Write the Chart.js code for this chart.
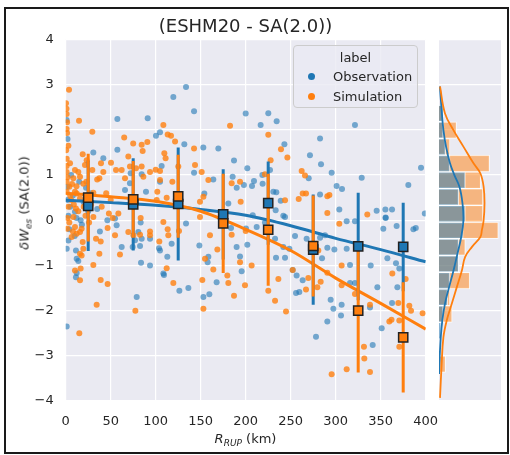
<!DOCTYPE html>
<html>
<head>
<meta charset="utf-8">
<script src="https://cdn.jsdelivr.net/npm/chart.js@4.4.1/dist/chart.umd.min.js"></script>
<style>
  body { margin: 0; background: #fff; font-family: 'DejaVu Sans', sans-serif; color: #262626; }
  #fig { position: relative; width: 510px; height: 455px; overflow: hidden; }
  .abs { position: absolute; }
  #frame { left: 4px; top: 7px; width: 505px; height: 447px; box-sizing: border-box; border: 2px solid #1a1a1a; pointer-events: none; }
  #title { left: 245.5px; top: 25px; transform: translate(-50%, -50%); font-size: 18px; white-space: nowrap; }
  #xlab { left: 245.5px; top: 439px; transform: translate(-50%, -50%); font-size: 13px; white-space: nowrap; }
  #ylab { left: 25px; top: 203px; transform: translate(-50%, -50%) rotate(-90deg); font-size: 13px; white-space: nowrap; }
  sub { font-size: 9px; vertical-align: -3px; }
  #legend { left: 293px; top: 45px; width: 125px; height: 63px; box-sizing: border-box; border: 1px solid #cccccc; border-radius: 4px; background: rgba(234,234,242,0.8); font-size: 13px; }
  #legend .t { position: absolute; left: 0; width: 100%; top: 4px; text-align: center; }
  #legend .row { position: absolute; left: 14px; white-space: nowrap; }
  #legend .dot { display: inline-block; width: 7px; height: 7px; border-radius: 50%; margin-right: 18px; vertical-align: 1px; }
</style>
</head>
<body>
<div id="fig">
  <div class="abs" style="left:0;top:0;width:460px;height:455px"><canvas id="main"></canvas></div>
  <div class="abs" style="left:439px;top:39px;width:62px;height:362px"><canvas id="marg"></canvas></div>
  <div id="title" class="abs">(ESHM20 - SA(2.0))</div>
  <div id="xlab" class="abs"><i>R</i><sub><i>RUP</i></sub> (km)</div>
  <div id="ylab" class="abs"><i>δW</i><sub><i>es</i></sub> (SA(2.0))</div>
  <div id="legend" class="abs">
    <div class="t">label</div>
    <div class="row" style="top:23px"><span class="dot" style="background:#1f77b4"></span>Observation</div>
    <div class="row" style="top:43px"><span class="dot" style="background:#ff7f0e"></span>Simulation</div>
  </div>
  <div id="frame" class="abs"></div>
</div>
<script>
// scatter points [distance, residual]
const obsPts = [
  [133.7,2.95],[119.6,2.73],[142.6,2.41],[91.1,2.26],[57.4,2.24],[104.8,1.95],[100.3,1.87],[1,2.22],[2,1.8],[131.8,1.68],
  [152.9,1.61],[169.6,1.59],[30.7,1.5],[41.8,1.37],[57.4,1.56],[187,1.32],[106.6,1.2],[142.6,1.05],[72.2,1.04],[104.8,0.85],
  [89.2,0.63],[65.9,0.67],[164,0.9],[185.5,0.96],[190,0.72],[154,0.59],[180.7,0.37],[22.6,0.72],[198,0.78],[1.8,0.74],
  [71.4,0.82],[84.4,1.02],
  [2,0.45],[5,0.3],[3,0.1],[8,0.55],[12,0.05],[20,0.4],[25,0.2],[4,-0.2],[18,-0.1],[28,0.6],[35,0.25],[6,1.0],[15,0.85],
  [3,-0.45],[10,-0.35],[38,-0.25],[10.3,0.19],[16.6,0],
  [46.3,0.0],[54.8,0.04],[56.6,-0.11],[62.2,-0.59],[80.7,-0.26],[84.4,-0.41],[104.8,-0.67],[112.9,-0.81],[133.7,-0.07],
  [148.5,-0.56],[158.5,-0.81],[189.9,-0.59],[193.7,-0.8],[200.3,-0.18],[74.4,-0.59],[77,-0.44],[82.6,-0.57],[83.3,-0.05],
  [93.7,-0.41],[83.7,-0.94],[93.7,-1.0],[103.7,-0.62],[117.7,-0.52],[157.7,-0.93],[183.7,-0.17],
  [78.9,-1.7],[108.5,-1.18],[109.2,-1.21],[126.3,-1.56],[136.3,-1.5],[153,-1.7],[159.6,-1.64],[167.7,-1.37],[195.5,-1.13],
  [11.4,-0.67],[12.2,-0.85],[14,-0.9],[11.4,-1.26],[12.2,-1.17],[1.1,-0.63],[1.1,-2.35],
  [200,2.36],[225.1,2.37],[216.6,2.11],[234.4,2.19],[321.4,2.11],[282.6,1.81],[243,1.68],[271.4,1.44],[283.7,1.24],
  [201.8,1.15],[295.5,1.05],[328.9,0.94],[394.8,1.16],[209.2,0.87],[207,0.76],[218.5,1.0],[218.8,0.81],[227,1.11],
  [270,0.93],[301,0.76],[307,0.69],[230.7,0.63],[234,0.62],[282.6,0.57],[380.7,0.78],[238.9,0.43],[304,0.24],[345.5,0.21],
  [355.2,0.24],[362.6,0.24],[355.5,0.06],[241.8,0.1],[399,0.15],[207.8,0.11],[233.3,0.22],
  [201.8,-0.54],[212.2,-0.15],[221.4,-0.05],[243.7,0.07],[232.6,-0.41],[241.8,-0.59],[248.5,-0.63],[233.7,-0.83],
  [243.7,-0.83],[254.8,-0.35],[252.2,-1.1],[256.6,-1.22],[263.3,-1.33],[255.9,-1.61],[259.6,-1.59],[267.7,-0.41],
  [282.6,-0.39],[288.1,-0.33],[284.8,-0.84],[290.7,-0.61],[298.5,-0.65],[294.4,-1.76],[297.4,-1.96],[305.9,-2.11],
  [306.6,-1.87],[290.7,-2.24],[278.1,-2.58],[312.2,-0.02],[321.4,-0.02],[312.2,-0.63],[315.9,-0.99],[315.9,-1.39],
  [321.4,-1.39],[338.1,-1.93],[338.9,-1.0],[346.3,-1.48],[352.9,-0.19],[355.5,0.05],[357.4,-0.84],[367,-0.95],
  [370.7,-1.07],[386.3,-0.2],[389,-0.17],[367.7,-0.13],[368.5,-1.48],[362.6,-1.83],[351.1,-2.39],[341.1,-2.76]
];
const simPts = [
  [3.7,2.89],[0.3,2.59],[0.9,2.47],[1,2.35],[1.5,2.17],[1,2.02],[1.5,1.93],[14.8,2.2],[29.6,1.96],[65,1.83],[75,1.7],
  [84.4,1.67],[90.7,1.73],[85.5,1.53],[108.5,2.11],[113.3,1.9],[117,1.87],[121.5,1.74],[109.6,1.48],[111,1.37],
  [142.6,1.59],[143.7,1.22],[182.6,2.09],[69.6,1.41],
  [18.9,1.46],[23.3,1.33],[21.4,1.22],[1.1,1.36],[4.8,1.26],[10.3,1.11],[14,1.07],[8.5,0.93],[15.9,0.96],[1,1.07],
  [1,0.85],[4,0.74],[29.6,1.11],[41.8,1.07],[39.2,1.26],[50.3,1.27],[37.4,0.93],[55.9,1.11],[62.2,1.11],[65.9,0.93],
  [71.4,1.19],[78.1,1.15],[84.4,1.19],[86.3,0.96],[93.7,1.07],[100,1.12],[104.8,1.09],[104.8,0.89],[101.8,0.63],
  [112.2,0.5],[125.1,1.19],[118.5,0.85],[151.1,1.07],[158.5,0.89],[153,0.52],[125.1,0.37],[193.7,0.85],[184.4,0.82],
  [194.4,0.41],[101.1,0.45],[149.2,0.41],
  [1,0.63],[10.3,0.63],[15.9,0.48],[11.4,0.26],[8.5,0.07],[30.7,0.07],[58.5,0.15],[30.7,0.61],[12.2,0.59],[19.6,0.81],
  [3,0.3],[6,0.45],[2,0.05],[9,0.35],[14,0.2],[22,0.1],[25,0.55],[4,-0.05],[7,0.8],[12,0.75],[20,0.3],[26,-0.05],
  [2,0.95],[5,0.55],[8,-0.25],[23,0.85],[28,0.35],[0.5,1.55],[3,1.65],[1,1.2],[40,0.3],[45,0.6],[50,0.45],[48,0.15],[35,0.9],
  [1.8,-0.19],[10.3,-0.15],[6.6,-0.37],[12.2,-0.3],[15.9,-0.26],[17.7,-0.19],[18.9,-0.48],[19.6,-0.63],[15.9,-0.74],
  [17.7,-0.78],[10.3,-1.11],[16.6,-1.07],[15.9,-1.33],[30.7,-0.99],[33.7,-0.41],[38.9,-0.47],[37.4,-0.74],[38.9,-1.32],
  [46.6,-1.41],[34.4,-1.87],[15.1,-2.5],[54.8,-0.33],[60.3,-0.76],[52.2,0.05],[46.6,-0.17],[69.6,-0.26],[75.2,-0.33],
  [82.6,-0.32],[83.3,0.05],[93.7,-0.25],[93.7,-0.33],[77.4,-2.0],[104,-0.47],[108.5,-0.04],[113.3,-0.2],[114,-0.33],
  [112.2,-1.06],[119.6,-1.39],[125.9,-0.24],[149.2,0.07],[160.3,-0.33],[168.5,-0.65],[154.8,-0.85],[164,-1.09],
  [151.8,-1.32],[153,-1.96],[179.6,-1.22],[180.7,-1.39],[184.4,-0.32],[193.7,-0.93],[187,-1.67],[199.2,-1.44],
  [225.1,1.89],[239.2,1.57],[246.3,1.39],[227.7,1.33],[262.2,1.09],[265.9,0.99],[221.4,1.02],[263.3,0.59],[267,0.59],
  [290.7,0.53],[293,0.56],[258.9,0.47],[243.7,0.44],[290.7,0.16],[335.1,0.13],[304,-0.08],
  [200,-0.24],[206.6,-1.0],[225.1,-1.56],[236.3,-1.3],[232.6,-1.78],[244.8,-2.02],[252.2,-1.1],[267,-1.53],[269.6,-1.28],
  [280.7,-0.67],[279.6,-1.48],[283.3,-1.36],[290.7,-1.16],[306.6,-1.0],[306.6,-1.44],[321.4,-1.63],[338.1,-1.87],
  [331.4,-2.8],[331.8,-3.06],[295.5,-3.41],[312.2,-3.3],[338.1,-3.36],[362.9,-1.18],[377.7,-1.3],[359.6,-2.24],
  [362,-2.2],[370.7,-2.22],[369.6,-1.83],[381.8,-1.89],[383.7,-2.0],[370.7,-2.8],[396.6,-2.06]
];

// binned means and spread
const binX = [25, 75, 125, 175, 225, 275, 325, 375];
const obsMean = [0.32, 0.35, 0.36, 0.13, 0.38, -0.65, -0.58, -0.59];
const obsStd = [1.0, 1.02, 1.25, 1.0, 0.92, 1.22, 1.19, 0.98];
const simMean = [0.50, 0.46, 0.53, -0.07, -0.21, -0.57, -2.0, -2.59];
const simStd = [0.97, 0.85, 0.92, 1.1, 1.24, 1.12, 1.37, 1.22];

// fitted trend curves
const fitX = [0, 50, 100, 150, 200, 250, 300, 350, 400];
const obsFit = [0.44, 0.39, 0.33, 0.24, 0.11, -0.12, -0.40, -0.65, -0.92];
const simFit = [0.60, 0.52, 0.42, 0.20, -0.20, -0.67, -1.28, -1.84, -2.41];

// marginal histogram (bin centres, counts)
const histBins = [-3.185, -2.815, -2.445, -2.075, -1.705, -1.335, -0.965, -0.595, -0.225, 0.145, 0.515, 0.885, 1.255, 1.625, 1.995, 2.365];
const obsCounts = [0, 0, 1, 2, 4, 5, 9, 9, 11, 12, 9, 12, 5, 3, 2, 2];
const simCounts = [3, 0, 0, 6, 5, 14, 9, 12, 27, 20, 20, 19, 23, 5, 8, 2];

// marginal density curves
const obsKdeY = [2.96, 2.5, 2.0, 1.63, 1.26, 1.0, 0.74, 0.37, 0.0, -0.37, -0.74, -1.11, -1.48, -1.85, -2.22, -2.59, -3.19, -3.4];
const obsKde = [0.4, 1.1, 2.0, 3.2, 5.0, 7.0, 9.3, 10.7, 11.1, 10.1, 8.4, 6.6, 4.6, 2.7, 1.5, 0.8, 0.15, 0.05];
const simKdeY = [2.96, 2.37, 2.0, 1.63, 1.26, 1.04, 0.74, 0.37, 0.0, -0.22, -0.37, -0.59, -0.81, -1.11, -1.48, -1.85, -2.22, -2.59, -3.19, -3.93];
const simKde = [0.46, 2.7, 6.5, 11.1, 15.7, 18.8, 20.3, 20.7, 20.3, 19.5, 18.8, 15.0, 11.9, 10.4, 8.1, 5.8, 3.5, 2.0, 1.2, 0.46];

const BLUE = '#1f77b4';
const ORANGE = '#ff7f0e';
const FONT = { family: "'DejaVu Sans', sans-serif", size: 13 };

const plotBg = {
  id: 'plotBg',
  beforeDraw(chart) {
    const { ctx, chartArea: a } = chart;
    ctx.save();
    ctx.fillStyle = '#eaeaf2';
    ctx.fillRect(a.left, a.top, a.right - a.left, a.bottom - a.top);
    ctx.restore();
  }
};

const minus = v => String(v).replace('-', '\u2212');
const toXY = pts => pts.map(p => ({ x: p[0], y: p[1] }));

function errorBars(means, stds, color, order) {
  return binX.map((x, i) => ({
    type: 'line',
    data: [{ x: x, y: means[i] - stds[i] }, { x: x, y: means[i] + stds[i] }],
    borderColor: color,
    borderWidth: 3,
    pointRadius: 0,
    order: order
  }));
}

const mainDatasets = [
  { label: 'Observation', data: toXY(obsPts), backgroundColor: 'rgba(31,119,180,0.6)', pointRadius: 3, borderWidth: 0, order: 11 },
  { label: 'Simulation', data: toXY(simPts), backgroundColor: 'rgba(255,127,14,0.8)', pointRadius: 3, borderWidth: 0, order: 10 },
  { type: 'line', data: fitX.map((x, i) => ({ x: x, y: obsFit[i] })), borderColor: BLUE, borderWidth: 3, pointRadius: 0, cubicInterpolationMode: 'monotone', order: 8 },
  { type: 'line', data: fitX.map((x, i) => ({ x: x, y: simFit[i] })), borderColor: ORANGE, borderWidth: 3, pointRadius: 0, cubicInterpolationMode: 'monotone', order: 7 },
  ...errorBars(obsMean, obsStd, BLUE, 6),
  ...errorBars(simMean, simStd, ORANGE, 5),
  { data: binX.map((x, i) => ({ x: x, y: obsMean[i] })), pointStyle: 'rect', pointRadius: 6.5, backgroundColor: BLUE, borderColor: '#222', borderWidth: 1.5, order: 2 },
  { data: binX.map((x, i) => ({ x: x, y: simMean[i] })), pointStyle: 'rect', pointRadius: 6.5, backgroundColor: ORANGE, borderColor: '#222', borderWidth: 1.5, order: 1 }
];

new Chart(document.getElementById('main'), {
  type: 'scatter',
  data: { datasets: mainDatasets },
  options: {
    responsive: true,
    maintainAspectRatio: false,
    animation: false,
    events: [],
    layout: { padding: { top: 39.5, right: 34.3, left: 0, bottom: 0 } },
    plugins: { legend: { display: false }, tooltip: { enabled: false } },
    scales: {
      x: {
        type: 'linear', min: 0, max: 400,
        afterFit: s => { s.height = 54; },
        border: { display: false },
        grid: { color: '#ffffff', lineWidth: 1.2, drawTicks: false },
        ticks: { stepSize: 50, padding: 13, color: '#262626', font: FONT, maxRotation: 0 }
      },
      y: {
        type: 'linear', min: -4, max: 4,
        afterFit: s => { s.width = 65.7; },
        border: { display: false },
        grid: { color: '#ffffff', lineWidth: 1.2, drawTicks: false },
        ticks: { stepSize: 1, padding: 12, color: '#262626', font: FONT, callback: minus }
      }
    }
  },
  plugins: [plotBg]
});

const bin = (counts) => histBins.map((b, i) => ({ x: counts[i] || null, y: b }));

new Chart(document.getElementById('marg'), {
  type: 'bar',
  data: {
    datasets: [
      { data: bin(simCounts), backgroundColor: 'rgba(255,127,14,0.5)', borderColor: 'rgba(255,255,255,0.75)', borderWidth: 1, grouped: false, barPercentage: 1, categoryPercentage: 1, order: 4 },
      { data: bin(obsCounts), backgroundColor: 'rgba(31,119,180,0.5)', borderColor: 'rgba(255,255,255,0.75)', borderWidth: 1, grouped: false, barPercentage: 1, categoryPercentage: 1, order: 3 },
      { type: 'line', data: obsKdeY.map((y, i) => ({ x: obsKde[i], y: y })), borderColor: BLUE, borderWidth: 1.8, pointRadius: 0, tension: 0.4, order: 2 },
      { type: 'line', data: simKdeY.map((y, i) => ({ x: simKde[i], y: y })), borderColor: ORANGE, borderWidth: 1.8, pointRadius: 0, tension: 0.4, order: 1 }
    ]
  },
  options: {
    indexAxis: 'y',
    responsive: true,
    maintainAspectRatio: false,
    animation: false,
    events: [],
    layout: { padding: { top: 0.5, left: 0, right: 0, bottom: 0 } },
    plugins: { legend: { display: false }, tooltip: { enabled: false } },
    scales: {
      x: { type: 'linear', display: false, min: 0, max: 28.2 },
      y: {
        type: 'linear', min: -4, max: 4, offset: false,
        afterFit: s => { s.width = 0; },
        border: { display: false },
        grid: { color: '#ffffff', lineWidth: 1.2, drawTicks: false, offset: false },
        ticks: { stepSize: 1, display: false }
      }
    }
  },
  plugins: [plotBg]
});
</script>
</body>
</html>
